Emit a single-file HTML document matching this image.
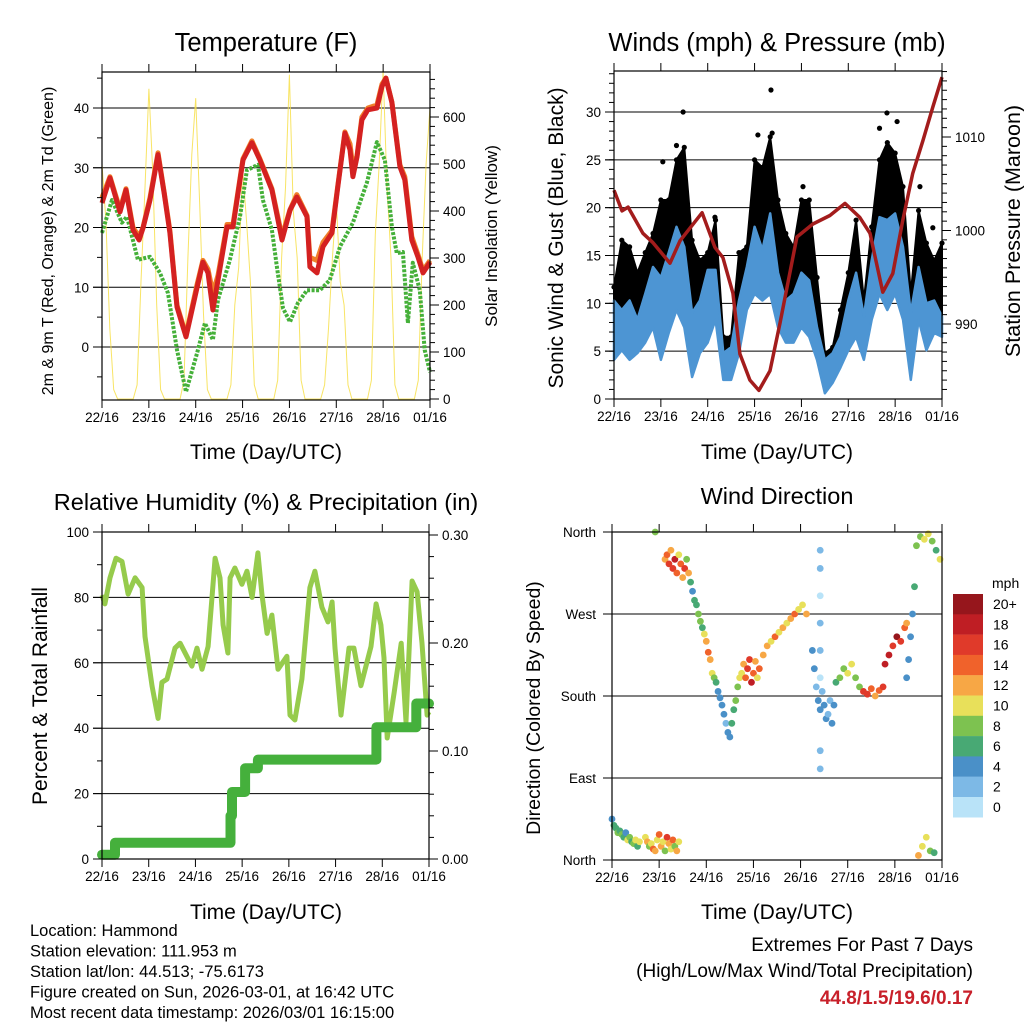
<!DOCTYPE html>
<html><head><meta charset="utf-8"><style>
html,body{margin:0;padding:0;background:#fff;}
svg{display:block;font-family:"Liberation Sans",sans-serif;}
</style></head><body>
<svg id="c" width="1024" height="1024" viewBox="0 0 1024 1024" xmlns="http://www.w3.org/2000/svg"></svg>
<script>
// ---------- DATA ----------
const dayLabels = ["22/16","23/16","24/16","25/16","26/16","27/16","28/16","01/16"];
// Temperature panel
const tHours = [0,4.1,9.2,12.3,15.9,19,21,24.6,28.7,31.8,34.8,38.4,43,48.7,51.7,54.3,56.8,59.4,64,67.1,72.2,76.8,80.9,87,92.2,96.3,99.8,105,106.5,110.1,113.2,117.8,120.8,124.4,127,128.5,130.6,133.1,136.2,140.8,143.4,145.4,148.5,152.6,155.1,158.7,161.8,164.4,168];
const tRed = [24.1,28.3,22.6,26.3,19.6,17.9,19.9,24.6,32.2,25.8,19.1,6.7,1.7,10,14.2,12.4,6.2,11.2,20.1,20.1,31.3,34.2,31.3,26.3,17.9,22.9,25.1,21.8,13.4,12.4,16.8,19.1,26.8,35.8,33,28.5,31.8,38,39.7,40,43.6,45,40.9,30.2,28,17.9,15.1,12.4,14.2];
const tOrange = [25,28.5,23,26.5,20,18.5,20,25,32.5,26,19.5,7,2,10.5,14.5,13,9,12,20.5,20.5,31.5,34.5,31.5,26.5,18.5,23,25.5,22,15,14.5,17.5,19.5,27,36,34,30,32,38.5,40,40.5,44,45,41,30.5,28.5,18.5,15.5,12.8,14.5];
const tdHours = [0,5.1,10.2,12.8,18.4,24.6,29.7,33.8,38.4,43,48.7,52.7,56.8,59.4,65.5,70.7,74.2,79.9,82.4,87,89.6,92.7,96.3,100.4,105,111.6,116.7,121.9,128.5,135.7,140.8,144.9,148.5,151,154.1,156.7,159.2,162.8,165.3,168];
const tdGreen = [19.1,24.6,20.8,21.8,14.6,15.1,12.4,9,-0.5,-7.5,-1,4,1.2,7.9,14.6,21.8,29.6,30.5,24.6,19.6,13.4,6.5,4.2,7.4,9.5,9.5,11.2,16.8,20.8,27.5,34.3,31.3,20.1,15.7,15.9,4,14.1,9.5,-0.5,-4.2];
const solar = [500,380,150,20,0,0,0,0,0,30,250,450, 660,480,200,20,0,0,0,0,0,40,300,520, 640,420,180,20,0,0,0,0,0,30,200,280, 490,380,250,30,0,0,0,0,0,40,300,450, 690,400,300,40,0,0,0,0,0,30,150,300, 420,250,200,30,0,0,0,0,0,40,350,500, 700,450,300,30,0,0,0,0,0,40,300,500, 620];
// Winds panel (4-hourly)
const gustLow  = [5.9,9,8.3,8.6,11,10.3,11,12.7,14.5,12.7,6.5,5.9,7.5,10.3,4.1,3,8.3,11,14.5,12.7,12.7,11,10.3,10.3,12.7,11,5.9,1.3,2.3,4.1,5.9,7.5,5.4,10.3,14.5,14.5,12.7,11,4.8,11,9.3,10.3,7.5];
const gustHigh = [11.7,16.6,15.9,13.2,15.3,17.3,20.8,20.8,25,26.3,16.6,14.5,15.3,18.7,6.5,6.5,15.3,15.9,25,24.2,27.4,20.8,17.3,15.9,20.8,20.8,12.7,4.8,5.4,9.3,13.2,18.7,10.3,18,25,26.8,25.7,22.2,11,19.7,16.3,14.5,16.3];
const windLow  = [4.1,5.1,4.1,4.8,5.9,7.5,4.1,6.9,9.3,7.5,2.3,4.8,5.9,8.3,2,2,4.8,9.3,11,10.3,11,7.5,5.9,5.9,7.5,6.5,4.1,0.6,1.7,3.3,5.1,6.5,4.1,8.3,11,9.3,11,8.3,2,8.3,5.1,6.9,6.5];
const windHigh = [10.3,9.3,10.3,8.3,11,13.8,12.7,15.3,18,15.9,9,10.3,13.5,13.5,4.8,5.4,10.3,13.8,18,15.6,19.4,13.2,10.3,11,13.2,12.4,7.5,4.1,4.8,6.5,10.3,13.2,8.6,14.5,19,18.7,19.4,15.9,9,13.8,10,10.3,8.6];
const gustDotH = [35.4,80.4,139.8,32,73.7,81,96.8,136,145,156.7,25,51.7,163.3];
const gustDotV = [30,32.3,29.9,26.5,27.6,27.8,22.2,28.3,29,22.2,24.8,19,17.9];
const pHours = [0,4.1,7.2,14.8,20,28.7,33.8,45.1,51.7,55.8,60.9,64.5,69.6,74.2,79.9,85,93.7,101.9,110.6,118.3,125.9,131.1,137.7,142.8,147.9,153,158.2,163.3,168];
const pressure = [1004.3,1002.1,1002.5,999.7,998.7,996.5,998.9,1001.9,998.2,997.1,993.3,986.8,984,982.9,985,990.1,999.3,1000.7,1001.6,1002.9,1001.4,999.7,993.4,995.4,1001.1,1006.1,1009.6,1013.2,1016.4];
// RH / precip panel
const rhHours = [0,1.5,4.1,7.2,10.3,13.4,17,20.6,22.1,25.7,28.8,30.8,33.4,37.5,40.1,46.2,48.8,51.4,54.5,58.1,60.6,62.2,64.7,65.8,68.3,71.9,74.5,77.1,80.1,82.2,84.8,87.3,90.4,95,96.6,99.1,102.7,106.8,109.4,113,116.1,118.2,119.7,122.8,126.9,129.4,133,138.2,140.8,143.3,144.9,146.5,150.1,153.7,156.2,159.3,161.9,164.4,167,168];
const rhVals = [80.7,78,86,92,91,81,86,83,68,53,43,54,55,64.5,66,59,64.5,58,65,92,86,71.6,63,86,89,84,88,80,93.6,80.7,69,74.6,58,62,44,42.5,55,83,88,77,72.5,78.6,64.5,44,64.5,64.5,53,65,78,71.6,61.5,37,51,66,42,85,81.7,66,44,45];
const prHours = [0,5,6.7,64.7,66,66.8,71.9,73.5,80.1,140.3,141,160.8,161.5,168];
const prVals = [0.004,0.004,0.015,0.015,0.04,0.062,0.062,0.084,0.092,0.092,0.122,0.122,0.144,0.144];
// Wind direction panel
const dirHour = [0,1,2,3,4,5,6,7,8,9,10,11,12,13,14,
17,18,19,20,21,22,23,24,25,26,27,28,29,30,31,32,33,34, 22,
27,28,29,30,31,32,33,34,35,36,37,38,39,40,
41,42,43,44,45,46,47,48,49,50,51,52,53,54,55,56,57,58,59,60,61,62,63,64,65,
66,67,68,69,70,71,72,73,74,75,
77,79,81,83,85,87,89,91,93,95,97,99,
102,103,104,105,106,107,108,109,110,111,112,113,
106,106,106,106,106,106,106,106,
114,116,118,120,122,124,126,
128,130,132,134,136,138,
139,141,143,145,147,149,150,
150,151,152,153,154,
155,157,159,161,163,165,167,
156,158,160,162,164];
const dirDeg = [45,38,35,30,32,28,25,30,22,25,20,18,22,15,20,
25,20,15,18,12,10,22,28,15,20,10,25,18,12,22,15,10,20, 360,
330,335,325,340,320,330,315,335,325,310,320,330,315,305,
295,285,280,270,262,255,248,240,228,220,205,200,195,185,178,170,160,150,140,135,150,165,175,190,200,
205,215,200,210,220,195,205,218,200,210,
225,235,240,245,250,255,260,265,270,275,280,270,
230,210,190,175,165,185,170,155,160,175,150,170,
340,320,290,260,230,200,120,100,
195,200,210,205,215,200,190,
185,182,188,180,186,190,
215,225,235,245,240,255,260,
200,220,245,270,300,
345,355,352,358,350,340,330,
5,15,25,10,8];
const dirSpd = [4,5,6,7,5,8,6,4,9,7,5,8,10,6,9,
10,12,8,9,14,11,10,13,12,9,8,15,11,10,13,7,12,9, 7,
12,14,16,11,15,17,13,10,14,12,16,8,11,6,
4,6,5,7,8,6,10,12,13,11,9,7,5,4,3,4,3,2,3,4,5,6,7,8,9,
9,12,14,16,15,17,13,12,10,14,
12,11,10,13,9,12,10,11,13,10,9,11,
4,3,2,4,3,2,4,3,1,2,3,4,
1,1,0,1,1,0,1,1,
6,7,8,9,10,8,7,
16,15,13,12,14,15,
18,17,16,19,15,13,12,
3,4,3,4,5,
7,8,10,9,8,6,10,
12,10,9,8,6];
const cbLabels = ["20+","18","16","14","12","10","8","6","4","2","0"];
const cbColors = ["#96161c","#bf1e24","#e03a2a","#f0622b","#f7a745","#e8e05a","#7dc250","#48a974","#4a90c8","#7db9e6","#b9e3f8"];

// ---------- HELPERS ----------
const NS="http://www.w3.org/2000/svg";
const svg=document.getElementById('c');
function mk(tag,attrs,parent){const e=document.createElementNS(NS,tag);for(const k in attrs)e.setAttribute(k,attrs[k]);(parent||svg).appendChild(e);return e;}
function txt(s,x,y,size,anchor,parent,extra){const t=mk('text',Object.assign({x:x,y:y,'font-size':size,'text-anchor':anchor||'middle',fill:'#000'},extra||{}),parent);t.textContent=s;return t;}
function lin(d0,d1,r0,r1){return v=>r0+(v-d0)*(r1-r0)/(d1-d0);}
function pts(xs,ys,fx,fy){return xs.map((h,i)=>fx(h).toFixed(1)+','+fy(ys[i]).toFixed(1)).join(' ');}

function frame(g,L,T,R,B,fx){
  dayLabels.forEach((lab,i)=>{const x=fx(i*24);
    mk('line',{x1:x,y1:T-8,x2:x,y2:T,stroke:'#000','stroke-width':1},g);
    mk('line',{x1:x,y1:B,x2:x,y2:B+8,stroke:'#000','stroke-width':1},g);
    const t=txt(lab,x,B+22,13.5,'middle',g);
    
    
  });
  mk('rect',{x:L,y:T,width:R-L,height:B-T,fill:'none',stroke:'#000','stroke-width':1.2},g);
}
function yAxis(g,side,L,R,fy,majors,labels,minors){
  const X = side==='left'?L:R, dir= side==='left'?-1:1;
  minors.forEach(v=>{const y=fy(v);mk('line',{x1:X,y1:y,x2:X+dir*5,y2:y,stroke:'#000','stroke-width':1},g);});
  majors.forEach((v,i)=>{const y=fy(v);
    mk('line',{x1:X,y1:y,x2:X+dir*9,y2:y,stroke:'#000','stroke-width':1},g);
    if(labels[i]!==''){const t=txt(labels[i],X+dir*13,y+5,13.5,side==='left'?'end':'start',g);
      
      }
  });
}
function grid(g,L,R,fy,vals){vals.forEach(v=>{const y=fy(v);mk('line',{x1:L-9,y1:y,x2:R,y2:y,stroke:'#000','stroke-width':1},g);});}
function range(a,b,s){const r=[];for(let v=a;v<=b+1e-9;v+=s)r.push(+v.toFixed(4));return r;}

// ---------- PANEL 1: Temperature ----------
(function(){
  const g=mk('g',{});
  
  
  const L=102,R=430,T=72,B=400;
  const fx=lin(0,168,L,R), fy=lin(0,40,347,108), fs=lin(0,600,399,117);
  grid(g,L,R,fy,[0,10,20,30,40]);
  const sl=mk('polyline',{points:pts(solar.map((v,i)=>i*2),solar,fx,fs),fill:'none',stroke:'#f7df4a','stroke-width':1,'stroke-opacity':0.85},g);
  
  
  const gr=mk('polyline',{points:pts(tdHours,tdGreen,fx,fy),fill:'none',stroke:'#45b039','stroke-width':4,'stroke-dasharray':'3 1.5','stroke-linejoin':'round'},g);
  
  
  const or=mk('polyline',{points:pts(tHours,tOrange,fx,fy),fill:'none',stroke:'#f07f2a','stroke-width':5,'stroke-linejoin':'round'},g);
  
  
  const rd=mk('polyline',{points:pts(tHours,tRed,fx,fy),fill:'none',stroke:'#d42121','stroke-width':5,'stroke-linejoin':'round'},g);
  
  
  frame(g,L,T,R,B,fx);
  yAxis(g,'left',L,R,fy,[0,10,20,30,40],['0','10','20','30','40'],[-5,5,15,25,35,45]);
  yAxis(g,'right',L,R,fs,[0,100,200,300,400,500,600],['0','100','200','300','400','500','600'],range(20,680,20));
  const t1=txt('Temperature (F)',266,51,25.5,'middle',g);
  
  
  const t2=txt('Time (Day/UTC)',266,459,21,'middle',g);
  
  
  const t3=txt('2m & 9m T (Red, Orange) & 2m Td (Green)',0,0,16,'middle',g,{transform:'translate(53,241) rotate(-90)'});
  
  
  const t4=txt('Solar Insolation (Yellow)',0,0,17,'middle',g,{transform:'translate(497,236) rotate(-90)'});
  
  
})();

// ---------- PANEL 2: Winds ----------
(function(){
  const g=mk('g',{});
  
  
  const L=614,R=942,T=71,B=399;
  const fx=lin(0,168,L,R), fy=lin(0,30,399,112), fp=lin(990,1010,324,137);
  grid(g,L,R,fy,[5,10,15,20,25,30]);
  const hrs=gustLow.map((v,i)=>i*4);
  const band=(lo,hi)=>pts(hrs,hi,fx,fy)+' '+pts(hrs.slice().reverse(),lo.slice().reverse(),fx,fy);
  const gb=mk('polygon',{points:band(gustLow,gustHigh),fill:'#000',stroke:'#000','stroke-width':2,'stroke-linejoin':'round'},g);
  
  
  hrs.forEach((h,i)=>{
    const d=mk('circle',{cx:fx(h),cy:fy(gustHigh[i]),r:2.6,fill:'#000'},g);
    
    
  });
  gustDotH.forEach((h,i)=>{
    const d=mk('circle',{cx:fx(h),cy:fy(gustDotV[i]),r:2.6,fill:'#000'},g);
    
    
  });
  const wb=mk('polygon',{points:band(windLow,windHigh),fill:'#4d95d3',stroke:'#4d95d3','stroke-width':2.5,'stroke-linejoin':'round'},g);
  
  
  const pl=mk('polyline',{points:pts(pHours,pressure,fx,fp),fill:'none',stroke:'#a31c1c','stroke-width':3.5,'stroke-linejoin':'round'},g);
  
  
  frame(g,L,T,R,B,fx);
  yAxis(g,'left',L,R,fy,[0,5,10,15,20,25,30],['0','5','10','15','20','25','30'],range(1,34,1));
  yAxis(g,'right',L,R,fp,[990,1000,1010],['990','1000','1010'],range(983,1017,1));
  const t1=txt('Winds (mph) & Pressure (mb)',777,51,25.5,'middle',g);
  
  
  const t2=txt('Time (Day/UTC)',777,459,21,'middle',g);
  
  
  const t3=txt('Sonic Wind & Gust (Blue, Black)',0,0,21,'middle',g,{transform:'translate(563,238) rotate(-90)'});
  
  
  const t4=txt('Station Pressure (Maroon)',0,0,21.5,'middle',g,{transform:'translate(1020,231) rotate(-90)'});
  
  
})();

// ---------- PANEL 3: RH & Precip ----------
(function(){
  const g=mk('g',{});
  
  
  const L=102,R=429,T=532,B=859;
  const fx=lin(0,168,L,R), fy=lin(0,100,859,532), fr=lin(0,0.1,859,751);
  grid(g,L,R,fy,[20,40,60,80]);
  const rl=mk('polyline',{points:pts(rhHours,rhVals,fx,fy),fill:'none',stroke:'#96cb4c','stroke-width':5,'stroke-linejoin':'round'},g);
  
  
  let sp=[];prHours.forEach((h,i)=>{if(i>0)sp.push(fx(h).toFixed(1)+','+fr(prVals[i-1]).toFixed(1));sp.push(fx(h).toFixed(1)+','+fr(prVals[i]).toFixed(1));});
  const pr=mk('polyline',{points:sp.join(' '),fill:'none',stroke:'#45b03c','stroke-width':10,'stroke-linejoin':'round','stroke-linecap':'round'},g);
  
  
  frame(g,L,T,R,B,fx);
  yAxis(g,'left',L,R,fy,[0,20,40,60,80,100],['0','20','40','60','80','100'],range(10,90,20));
  yAxis(g,'right',L,R,fr,[0,0.1,0.2,0.3],['0.00','0.10','0.20','0.30'],range(0.02,0.28,0.02));
  const t1=txt('Relative Humidity (%) & Precipitation (in)',266,510,23.5,'middle',g);
  
  
  const t2=txt('Time (Day/UTC)',266,919,21,'middle',g);
  
  
  const t3=txt('Percent & Total Rainfall',0,0,21,'middle',g,{transform:'translate(47,696) rotate(-90)'});
  
  
})();

// ---------- PANEL 4: Wind direction ----------
(function(){
  const g=mk('g',{});
  
  
  const L=612,R=942,T=532,B=860;
  const fx=lin(0,168,L,R), fy=lin(0,360,860,532);
  grid(g,L,R,fy,[90,180,270]);
  const colorOf=s=>{const b=Math.min(10,Math.floor((s+1)/2));return cbColors[10-b];};
  dirHour.forEach((h,i)=>{
    const d=mk('circle',{cx:fx(h),cy:fy(dirDeg[i]),r:3.4,fill:colorOf(dirSpd[i])},g);
    
    
  });
  frame(g,L,T,R,B,fx);
  const dl=['North','East','South','West','North'];
  [0,90,180,270,360].forEach((v,i)=>{const y=fy(v);
    mk('line',{x1:L-9,y1:y,x2:L,y2:y,stroke:'#000'},g);
    const t=txt(dl[i],596,y+5,13.5,'end',g);
    
    });
  const t1=txt('Wind Direction',777,504,23.5,'middle',g);
  
  
  const t2=txt('Time (Day/UTC)',777,919,21,'middle',g);
  
  
  const t3=txt('Direction (Colored By Speed)',0,0,19.5,'middle',g,{transform:'translate(540,708) rotate(-90)'});
  
  
  const cb=mk('g',{},g);
  
  
  const u=txt('mph',992,588,14,'start',cb);
  
  
  cbLabels.forEach((lab,i)=>{const y=594+i*20.3;
    const r=mk('rect',{x:953,y:y,width:30,height:20.5,fill:cbColors[i]},cb);
    
    
    const t=txt(lab,993,y+15,14,'start',cb);
    
    
  });
})();

// ---------- Footer text ----------
const info=["Location: Hammond","Station elevation: 111.953 m","Station lat/lon: 44.513; -75.6173","Figure created on Sun, 2026-03-01, at 16:42 UTC","Most recent data timestamp: 2026/03/01 16:15:00"];
info.forEach((s,i)=>{const t=txt(s,30,936+i*20.5,16.5,'start');
  
  });
const e1=txt('Extremes For Past 7 Days',973,951,19,'end');


const e2=txt('(High/Low/Max Wind/Total Precipitation)',973,977,19,'end');


const e3=txt('44.8/1.5/19.6/0.17',973,1004,19,'end',svg,{fill:'#c8202a','font-weight':'bold'});


</script>
</body></html>
